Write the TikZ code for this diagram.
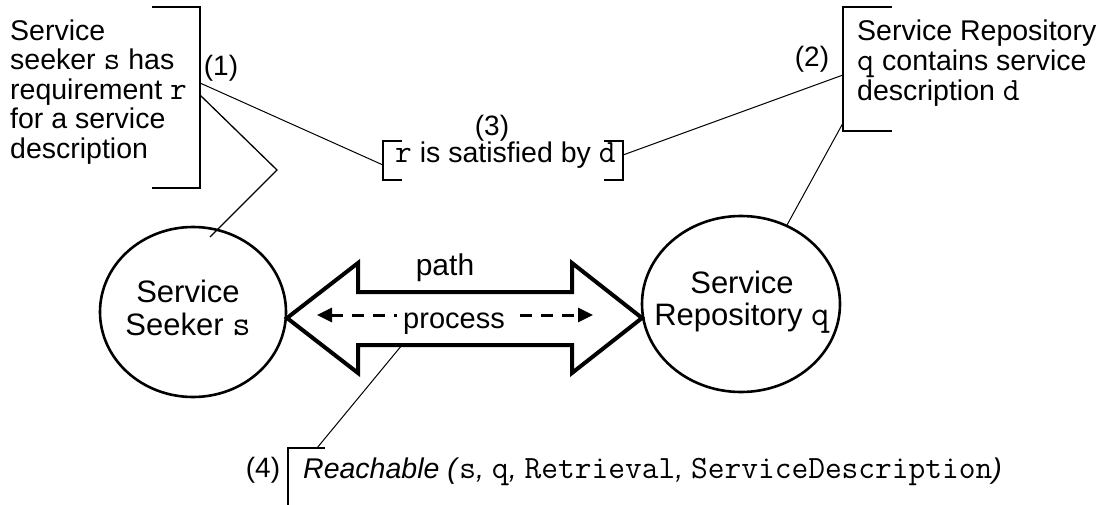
\documentclass[tikz,border=0pt]{standalone}
\usepackage{fontspec}
\setmainfont{Liberation Sans}
\setmonofont{Latin Modern Mono}[Scale=1.14]
\usetikzlibrary{arrows.meta,shapes.geometric}
\begin{document}
\begin{tikzpicture}[x=1pt,y=-1pt,
  boxtxt/.style={font=\fontsize{28.5}{29.5}\selectfont, inner sep=0pt, align=left},
  numtxt/.style={font=\fontsize{28}{30}\selectfont, inner sep=0pt},
  ovaltxt/.style={font=\fontsize{31}{33}\selectfont, inner sep=0pt, align=center},
  oval/.style={ellipse, draw, line width=2.6pt, inner sep=0pt},
  brk/.style={line width=1.4pt},
  lead/.style={line width=1pt},
  blockarrow/.style={line width=4pt, line join=miter, miter limit=10},
  dasharrow/.style={line width=3pt, dash pattern=on 12pt off 9pt,
    {Triangle[length=15pt,width=14pt]}-{Triangle[length=15pt,width=14pt]}},
]
\useasboundingbox (0,0) rectangle (1102,505);
\fill[white] (0,0) rectangle (1102,505);

% ellipses
\node[oval, minimum width=186pt, minimum height=170pt] (seeker) at (193,312) {};
\node[oval, minimum width=198pt, minimum height=176pt] (repo) at (741,304) {};
\node[ovaltxt, anchor=north] (seekertxt) at (188,279.5) {Service\\Seeker \texttt{s}};
\node[ovaltxt, anchor=north, font=\fontsize{31}{32}\selectfont] (repotxt) at (742,270.5) {Service\\Repository \texttt{q}};

% block double arrow
\coordinate (ltip) at (287,318);
\coordinate (rtip) at (642,318);
\draw[blockarrow] (ltip) -- (358,263) -- (358,292) -- (572,292) -- (572,263) -- (rtip)
  -- (572,373) -- (572,345) -- (358,345) -- (358,373) -- cycle;
\coordinate (dl) at (317,315);
\coordinate (dr) at (593,315);
\draw[dasharrow] (dl) -- (dr);
\node[font=\fontsize{30}{30}\selectfont, inner sep=0pt, anchor=base] (pathlbl) at (445,275) {path};
\node[font=\fontsize{29}{29}\selectfont, fill=white, inner xsep=6pt, inner ysep=0pt, anchor=base] (proclbl) at (454,328) {process};

% box 1
\node[boxtxt, anchor=north west] (t1) at (10,19.4) {Service\\seeker \texttt{s} has\\requirement \texttt{r}\\for a service\\description};
\draw[brk] (152,7) -- (200,7) -- (200,188) -- (152,188);
\coordinate (b1a) at (200,83);
\coordinate (b1b) at (200,95);
\node[numtxt, anchor=base] (n1) at (221,76) {(1)};

% box 2
\node[boxtxt, font=\fontsize{28.5}{30}\selectfont, anchor=north west] (t2) at (857,19.4) {Service Repository\\\texttt{q} contains service\\description \texttt{d}};
\draw[brk] (892,7) -- (843,7) -- (843,131) -- (892,131);
\coordinate (b2a) at (843,75);
\coordinate (b2b) at (843,123);
\node[numtxt, anchor=base] (n2) at (812,67) {(2)};

% box 3
\node[boxtxt, anchor=base west] (t3) at (395,163) {\texttt{r} is satisfied by \texttt{d}};
\draw[brk] (402,141) -- (383,141) -- (383,180) -- (402,180);
\draw[brk] (604,141) -- (623,141) -- (623,180) -- (604,180);
\coordinate (b3l) at (383,165);
\coordinate (b3r) at (623,155);
\node[numtxt, anchor=base] (n3) at (492,136) {(3)};

% box 4
\draw[brk] (325,448) -- (288,448) -- (288,505);
\coordinate (b4) at (317,448);
\node[numtxt, anchor=base] (n4) at (263,477) {(4)};
\node[boxtxt, font=\fontsize{28.5}{29}\selectfont, anchor=base west] (t4) at (303,478)
  {\textit{Reachable (}\texttt{s}\textit{, }\texttt{q}\textit{, }\texttt{Retrieval}\textit{, }\texttt{ServiceDescription}\textit{)}};

% connectors
\coordinate (kink) at (277,170);
\coordinate (seekend) at (210,237);
\coordinate (repoend) at (787,225);
\coordinate (arrowpt) at (402,345);
\draw[lead] (b1a) -- (b3l);
\draw[lead] (b3r) -- (b2a);
\draw[line width=1.3pt] (b1b) -- (kink) -- (seekend);
\draw[lead] (b2b) -- (repoend);
\draw[lead] (arrowpt) -- (b4);
\end{tikzpicture}
\end{document}
